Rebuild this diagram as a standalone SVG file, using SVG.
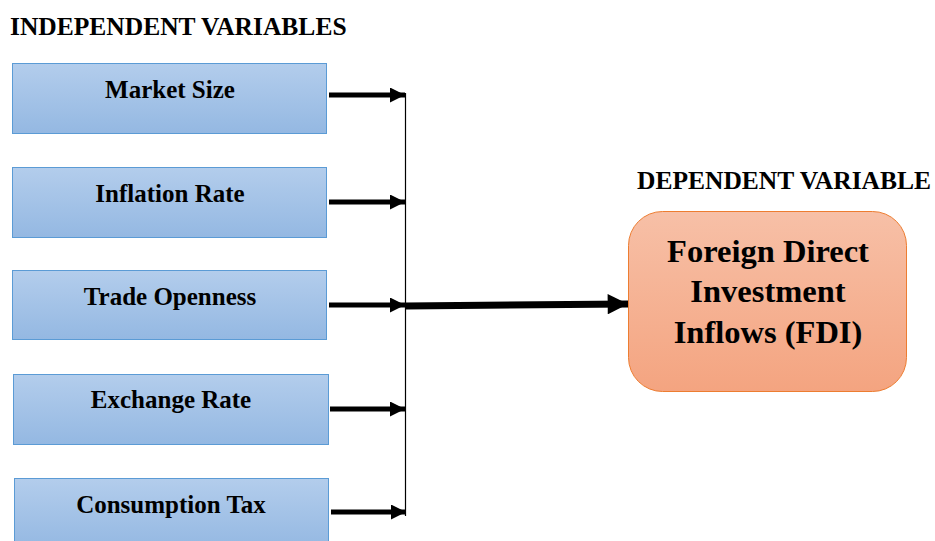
<svg xmlns="http://www.w3.org/2000/svg" width="935" height="541" viewBox="0 0 935 541">
<style>
.t{font-family:"Liberation Serif","Times New Roman",serif;font-weight:bold;fill:#000}
.h{font-size:25.5px}
.b{font-size:25px;text-anchor:middle}
.f{font-size:32.5px;text-anchor:middle}
.box{fill:url(#gb);stroke:#5b9bd5;stroke-width:1}
.arr{stroke:#000;stroke-width:5;fill:none}
</style>
<defs>
<linearGradient id="gb" x1="0" y1="0" x2="0" y2="1">
<stop offset="0" stop-color="#b3cdec"/>
<stop offset="1" stop-color="#94b8e2"/>
</linearGradient>
<linearGradient id="go" x1="0" y1="0" x2="0" y2="1">
<stop offset="0" stop-color="#f7c0a7"/>
<stop offset="1" stop-color="#f4a480"/>
</linearGradient>
<marker id="ah" viewBox="0 0 10 10" refX="10" refY="5" markerWidth="3" markerHeight="3" markerUnits="strokeWidth" orient="auto">
<path d="M0,0 L10,5 L0,10 z" fill="#000"/>
</marker>
<marker id="ahb" viewBox="0 0 10 10" refX="10" refY="5" markerWidth="3" markerHeight="2.9" markerUnits="strokeWidth" orient="auto">
<path d="M0,0 L10,5 L0,10 z" fill="#000"/>
</marker>
</defs>
<text class="t h" x="10" y="35">INDEPENDENT VARIABLES</text>
<text class="t h" x="637" y="189">DEPENDENT VARIABLE</text>
<g id="market-size"><rect class="box" x="12.5" y="63.5" width="314" height="70"/><text class="t b" x="170" y="98">Market Size</text></g>
<g id="inflation-rate"><rect class="box" x="12.5" y="167.5" width="314" height="70"/><text class="t b" x="170" y="202">Inflation Rate</text></g>
<g id="trade-openness"><rect class="box" x="12.5" y="270.5" width="314" height="69"/><text class="t b" x="170" y="305">Trade Openness</text></g>
<g id="exchange-rate"><rect class="box" x="13.5" y="374.5" width="315" height="70"/><text class="t b" x="171" y="408">Exchange Rate</text></g>
<g id="consumption-tax"><rect class="box" x="14.5" y="478.5" width="314" height="70"/><text class="t b" x="171" y="513">Consumption Tax</text></g>
<g id="fdi"><rect x="628.5" y="211.5" width="278" height="180" rx="34" fill="url(#go)" stroke="#ed7d31" stroke-width="1"/>
<text class="t f" x="768" y="262">Foreign Direct</text>
<text class="t f" x="768" y="302">Investment</text>
<text class="t f" x="768" y="343">Inflows (FDI)</text></g>
<g id="connectors">
<line x1="405.5" y1="93" x2="405.5" y2="516" stroke="#000" stroke-width="1.2"/>
<line class="arr" x1="329" y1="95" x2="405" y2="95" marker-end="url(#ah)"/>
<line class="arr" x1="329" y1="202" x2="405" y2="202" marker-end="url(#ah)"/>
<line class="arr" x1="329" y1="305" x2="405" y2="305" marker-end="url(#ah)"/>
<line class="arr" x1="330" y1="409" x2="405" y2="409" marker-end="url(#ah)"/>
<line class="arr" x1="331" y1="512" x2="406" y2="512" marker-end="url(#ah)"/>
<line x1="406" y1="306" x2="628" y2="304" stroke="#000" stroke-width="7" marker-end="url(#ahb)"/>
</g>
</svg>
